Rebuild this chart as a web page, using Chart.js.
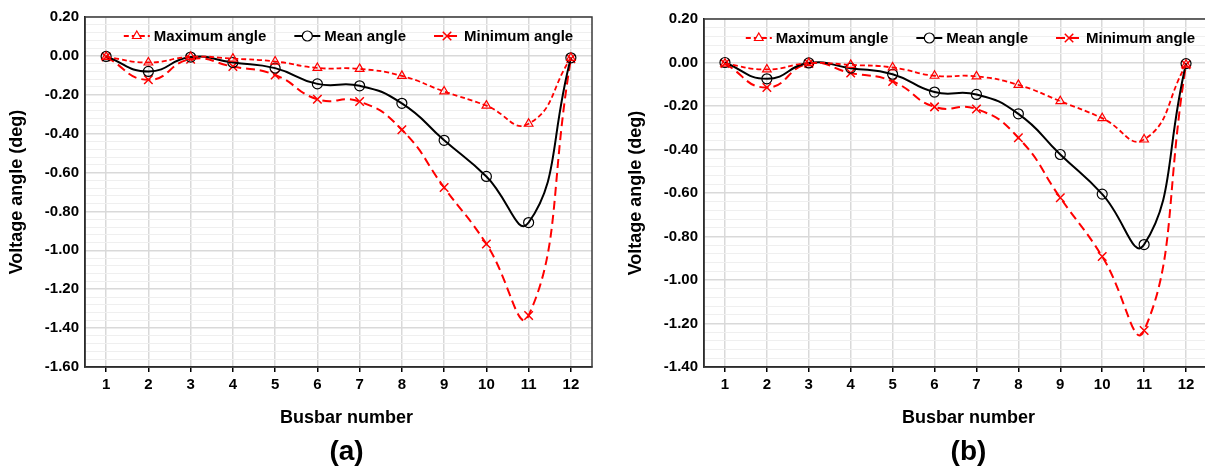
<!DOCTYPE html>
<html>
<head>
<meta charset="utf-8">
<title>Voltage angle per busbar</title>
<script src="https://cdn.jsdelivr.net/npm/chart.js@4.4.1/dist/chart.umd.min.js"></script>
<style>
    html, body { margin: 0; padding: 0; background: #fff; overflow: hidden; }
    body { width: 1205px; height: 469px; position: relative; }
    .panel { position: absolute; top: 0; height: 469px; }
    #panelA { left: 0; width: 600px; }
    #panelB { left: 619px; width: 596px; }
</style>
</head>
<body>
<div class="panel" id="panelA"><canvas id="chartA"></canvas></div>
<div class="panel" id="panelB"><canvas id="chartB"></canvas></div>
<script>
const BUSBARS = ['1', '2', '3', '4', '5', '6', '7', '8', '9', '10', '11', '12'];
const SERIES_NAMES = ['Maximum angle', 'Mean angle', 'Minimum angle'];

// panel (a)
const MAX_A  = [-0.005, -0.034, -0.005, -0.014, -0.029, -0.062, -0.067, -0.103, -0.183, -0.256, -0.349, -0.010];
const MEAN_A = [-0.003, -0.080, -0.006, -0.034, -0.063, -0.144, -0.154, -0.244, -0.434, -0.620, -0.857, -0.010];
const MIN_A  = [-0.005, -0.123, -0.017, -0.055, -0.098, -0.223, -0.235, -0.380, -0.677, -0.967, -1.335, -0.015];

// panel (b)
const MAX_B  = [-0.005, -0.032, -0.003, -0.011, -0.023, -0.061, -0.064, -0.103, -0.178, -0.256, -0.354, -0.010];
const MEAN_B = [ 0.000, -0.075, -0.002, -0.026, -0.054, -0.136, -0.147, -0.236, -0.423, -0.605, -0.837, -0.005];
const MIN_B  = [-0.005, -0.115, -0.005, -0.048, -0.087, -0.204, -0.214, -0.346, -0.622, -0.892, -1.232, -0.010];

const Y_RANGE_A = [-1.6, 0.2];
const Y_RANGE_B = [-1.4, 0.2];
const Y_MAJOR_STEP = 0.2;
const Y_MINOR_STEP = 0.04;

const FONT = '"Liberation Sans", Arial, sans-serif';
Chart.defaults.font.family = FONT;
Chart.defaults.color = '#000';

function isMajor(v) {
    const k = v / Y_MAJOR_STEP;
    return Math.abs(k - Math.round(k)) < 1e-6;
}

// dark frame around the plot area
const plotFrame = {
    id: 'plotFrame',
    beforeDatasetsDraw(chart) {
        const a = chart.chartArea;
        const ctx = chart.ctx;
        ctx.save();
        ctx.strokeStyle = '#3a3a3a';
        ctx.lineWidth = 1.5;
        ctx.strokeRect(a.left, a.top, a.right - a.left, a.bottom - a.top);
        ctx.restore();
    }
};

// legend sitting inside the plot, like the Excel one
const insideLegend = {
    id: 'insideLegend',
    afterDatasetsDraw(chart, args, opts) {
        const ctx = chart.ctx;
        const a = chart.chartArea;
        const sampleW = 26, textGap = 4, itemGap = 28;
        ctx.save();
        ctx.font = 'bold 15px ' + FONT;
        const items = chart.data.datasets.map(ds => ({
            ds: ds,
            w: sampleW + textGap + ctx.measureText(ds.label).width
        }));
        const total = items.reduce((s, it) => s + it.w, 0) + itemGap * (items.length - 1);
        let x = (a.left + a.right) / 2 - total / 2 + (opts.shift || 0);
        const y = a.top + 19;
        items.forEach(it => {
            const ds = it.ds;
            ctx.strokeStyle = ds.borderColor;
            ctx.lineWidth = ds.borderWidth;
            ctx.setLineDash(ds.borderDash || []);
            ctx.beginPath();
            ctx.moveTo(x, y);
            ctx.lineTo(x + sampleW, y);
            ctx.stroke();
            ctx.setLineDash([]);
            ctx.fillStyle = '#fff';
            ctx.lineWidth = ds.pointBorderWidth;
            Chart.helpers.drawPoint(ctx, {
                pointStyle: ds.pointStyle,
                rotation: 0,
                radius: ds.pointRadius,
                borderWidth: ds.pointBorderWidth
            }, x + sampleW / 2, y);
            ctx.fillStyle = '#000';
            ctx.textAlign = 'left';
            ctx.textBaseline = 'middle';
            ctx.fillText(ds.label, x + sampleW + textGap, y + 1);
            x += it.w + itemGap;
        });
        ctx.restore();
    }
};

// x axis title and the panel letter, centred a bit right of the plot like the figure
const captions = {
    id: 'captions',
    afterDraw(chart, args, opts) {
        const ctx = chart.ctx;
        const a = chart.chartArea;
        const cx = (a.left + a.right) / 2 + (opts.shift || 0);
        ctx.save();
        ctx.fillStyle = '#000';
        ctx.textAlign = 'center';
        ctx.textBaseline = 'middle';
        ctx.font = 'bold 18px ' + FONT;
        ctx.fillText(opts.axisTitle, cx, a.bottom + 51);
        ctx.font = 'bold 28px ' + FONT;
        ctx.fillText(opts.panel, cx, a.bottom + 85);
        ctx.restore();
    }
};

function makeChart(canvasId, maxVals, meanVals, minVals, yRange, panelLabel, topPad, shift) {
    const ctx = document.getElementById(canvasId).getContext('2d');
    return new Chart(ctx, {
        type: 'line',
        data: {
            labels: BUSBARS,
            datasets: [
                {
                    label: SERIES_NAMES[0],
                    data: maxVals,
                    borderColor: '#ff0000',
                    borderWidth: 1.8,
                    borderDash: [5, 3],
                    pointStyle: 'triangle',
                    pointRadius: 5,
                    pointBorderWidth: 1.2,
                    pointBorderColor: '#ff0000',
                    pointBackgroundColor: 'rgba(255,255,255,0)',
                    tension: 0.5,
                    fill: false
                },
                {
                    label: SERIES_NAMES[1],
                    data: meanVals,
                    borderColor: '#000000',
                    borderWidth: 2,
                    pointStyle: 'circle',
                    pointRadius: 5,
                    pointBorderWidth: 1.2,
                    pointBorderColor: '#000000',
                    pointBackgroundColor: 'rgba(255,255,255,0)',
                    tension: 0.5,
                    fill: false
                },
                {
                    label: SERIES_NAMES[2],
                    data: minVals,
                    borderColor: '#ff0000',
                    borderWidth: 2,
                    borderDash: [9, 5],
                    pointStyle: 'crossRot',
                    pointRadius: 6,
                    pointBorderWidth: 1.5,
                    pointBorderColor: '#ff0000',
                    pointBackgroundColor: 'rgba(255,255,255,0)',
                    tension: 0.5,
                    fill: false
                }
            ]
        },
        options: {
            responsive: true,
            maintainAspectRatio: false,
            animation: false,
            layout: {
                padding: { top: topPad, right: 8, left: 0, bottom: 0 }
            },
            plugins: {
                legend: { display: false },
                tooltip: { enabled: false },
                insideLegend: { shift: shift + 2 },
                captions: { shift: shift, axisTitle: 'Busbar number', panel: panelLabel }
            },
            scales: {
                x: {
                    offset: true,
                    grid: {
                        offset: false,
                        color: '#d9d9d9',
                        lineWidth: 1.5,
                        drawTicks: true,
                        tickLength: 5,
                        tickColor: '#000'
                    },
                    border: { color: '#000', width: 1.5 },
                    ticks: {
                        color: '#000',
                        font: { size: 15, weight: 'bold' },
                        padding: 4,
                        maxRotation: 0,
                        autoSkip: false
                    },
                    afterFit: function(scale) {
                        scale.height = 102;
                    }
                },
                y: {
                    min: yRange[0],
                    max: yRange[1],
                    ticks: {
                        stepSize: Y_MINOR_STEP,
                        autoSkip: false,
                        color: '#000',
                        font: { size: 15, weight: 'bold' },
                        padding: 6,
                        callback: function(value) {
                            if (!isMajor(value)) return '';
                            const v = Math.abs(value) < 1e-9 ? 0 : value;
                            return v.toFixed(2);
                        }
                    },
                    grid: {
                        drawTicks: false,
                        color: function(c) {
                            return isMajor(c.tick.value) ? '#d9d9d9' : '#efefef';
                        },
                        lineWidth: function(c) {
                            return isMajor(c.tick.value) ? 1.5 : 1;
                        }
                    },
                    border: { color: '#000', width: 1.5 },
                    title: {
                        display: true,
                        text: 'Voltage angle (deg)',
                        color: '#000',
                        font: { size: 18, weight: 'bold' },
                        padding: { top: 6, bottom: 0 }
                    },
                    afterFit: function(scale) {
                        scale.width = 85;
                    }
                }
            }
        },
        plugins: [plotFrame, insideLegend, captions]
    });
}

makeChart('chartA', MAX_A, MEAN_A, MIN_A, Y_RANGE_A, '(a)', 17, 8);
makeChart('chartB', MAX_B, MEAN_B, MIN_B, Y_RANGE_B, '(b)', 19, 13);
</script>
</body>
</html>
